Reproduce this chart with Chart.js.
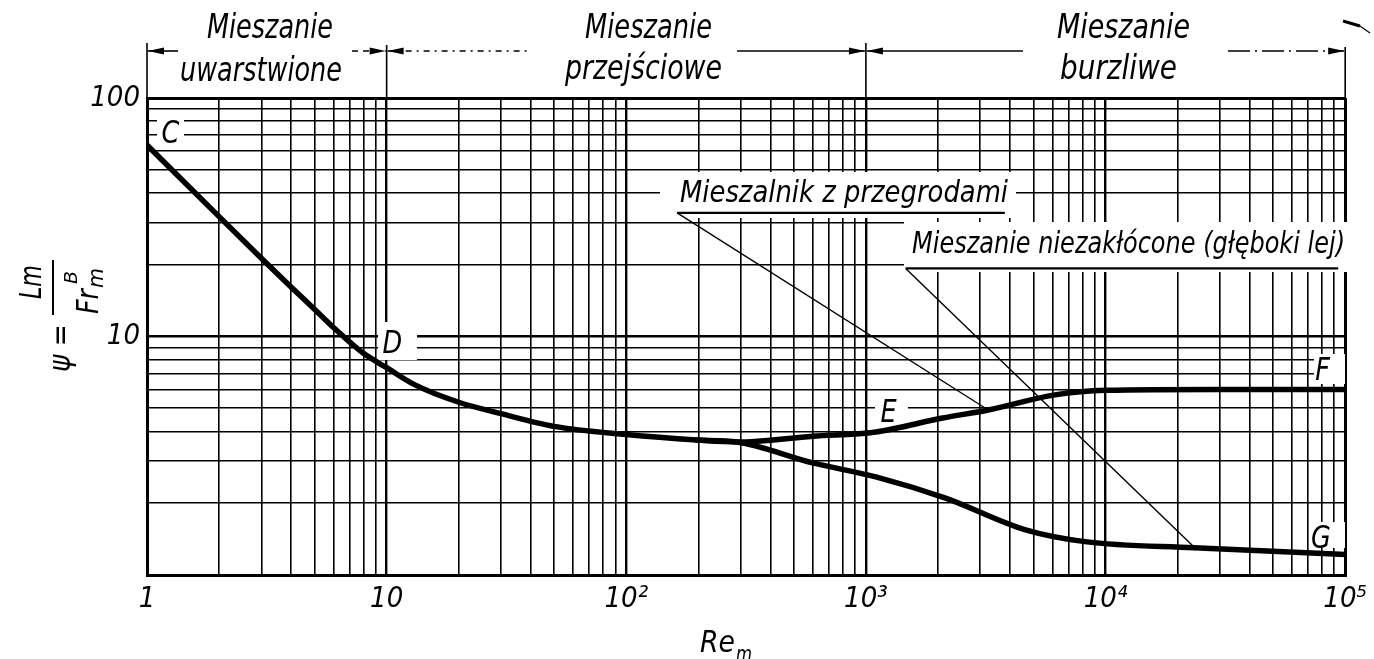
<!DOCTYPE html>
<html><head><meta charset="utf-8">
<script src="https://cdn.jsdelivr.net/npm/chart.js@4/dist/chart.umd.min.js"></script>
<style>html,body{margin:0;padding:0;background:#fff;overflow:hidden}#wrap{position:relative;width:1374px;height:659px}</style>
</head><body><div id="wrap"><canvas id="c" width="1374" height="659"></canvas></div>
<script>
// ---- data ----
const reShared = [1, 2, 3, 4, 5, 6, 7, 8, 10, 13, 20, 30, 50, 100, 197, 290];
const psiShared = [63.5, 31.8, 21.3, 16.1, 13.0, 10.9, 9.5, 8.5, 7.4, 6.3, 5.3, 4.75, 4.2, 3.88, 3.68, 3.61];
const reBaffled = [600, 1100, 2090, 3240, 6150, 10000, 30000, 100000];
const psiBaffled = [3.82, 3.98, 4.55, 4.92, 5.69, 5.95, 6.0, 6.0];
const reUnbaffled = [197, 290, 600, 1100, 2150, 4600, 8200, 23400, 100000];
const psiUnbaffled = [3.68, 3.61, 2.95, 2.58, 2.10, 1.55, 1.38, 1.30, 1.22];
const xTickLabels = ['1', '10', '10²', '10³', '10⁴', '10⁵'];
const yTickLabels = ['', '10', '100'];
const regimeBounds = [1, 10, 1000, 100000];
const regimeNames = [['Mieszanie', 'uwarstwione'], ['Mieszanie', 'przejściowe'], ['Mieszanie', 'burzliwe']];
const mixerLabels = ['Mieszalnik z przegrodami', 'Mieszanie niezakłócone (głęboki lej)'];
const curveLetters = ['C', 'D', 'E', 'F', 'G'];

const FONT = '"DejaVu Sans", sans-serif';
function fitText(ctx, text, left, right, baseline, size) {
  ctx.save();
  ctx.font = 'italic ' + size + 'px ' + FONT;
  const w = ctx.measureText(text).width;
  ctx.translate(left, baseline);
  ctx.scale((right - left) / w, 1);
  ctx.textAlign = 'left'; ctx.textBaseline = 'alphabetic';
  ctx.fillStyle = '#000';
  ctx.fillText(text, 0, 0);
  ctx.restore();
}
function line(ctx, x1, y1, x2, y2, w, dash) {
  ctx.save(); ctx.lineWidth = w; ctx.strokeStyle = '#000';
  ctx.setLineDash(dash || []);
  ctx.beginPath(); ctx.moveTo(x1, y1); ctx.lineTo(x2, y2); ctx.stroke(); ctx.restore();
}
function arrowHead(ctx, tip, y, dir) {
  ctx.beginPath(); ctx.moveTo(tip, y); ctx.lineTo(tip - dir * 16, y - 3.5); ctx.lineTo(tip - dir * 16, y + 3.5);
  ctx.closePath(); ctx.fillStyle = '#000'; ctx.fill();
}
function gridTicks(loExp, hiExp) {
  const t = [];
  for (let e = loExp; e < hiExp; e++) for (let m = 1; m <= 9; m++) t.push(m * Math.pow(10, e));
  t.push(Math.pow(10, hiExp));
  return t;
}
function expOf(v) { const e = Math.log10(v); return Math.abs(e - Math.round(e)) < 1e-9 ? Math.round(e) : null; }

const letterPos = { C: [1.15, 65], D: [9.6, 8.5], E: [1150, 4.38], F: [75000, 6.6], G: [72000, 1.30] };

const decor = {
  id: 'decor',
  beforeDraw(chart) { const c = chart.ctx; c.save(); c.fillStyle = '#fff'; c.fillRect(0, 0, chart.width, chart.height); c.restore(); },
  beforeDatasetsDraw(chart) {
    const c = chart.ctx; c.save(); c.fillStyle = '#fff';
    // white areas behind labels inside the grid
    c.fillRect(660, 172, 356, 46);
    c.fillRect(904, 222, 446, 50);
    c.fillRect(157, 113, 27, 35);
    c.fillRect(378, 322, 39, 38);
    c.fillRect(875, 396, 33, 30);
    c.fillRect(1314, 354, 31, 30);
    c.fillRect(1312, 522, 33, 26);
    c.restore();
  },
  afterDraw(chart) {
    const c = chart.ctx, xs = chart.scales.x, ys = chart.scales.y, top = chart.chartArea.top;
    // regime bracket line
    const b = regimeBounds.map(v => xs.getPixelForValue(v));
    const ay = 51;
    [43, 45, 43, 47].forEach((y0, i) => line(c, b[i], y0, b[i], top, 1.6));
    line(c, b[0] + 1, ay, 178, ay, 1.6);
    line(c, 352, ay, b[1] - 1, ay, 1.6, [6, 5]);
    line(c, b[1] + 1, ay, 527, ay, 1.6, [6, 5, 2, 5]);
    line(c, 737, ay, b[2] - 1, ay, 1.6);
    line(c, b[2] + 1, ay, 1023, ay, 1.6);
    line(c, 1228, ay, b[3] - 1, ay, 1.6, [22, 5, 2, 5]);
    arrowHead(c, b[0] + 1, ay, -1);
    arrowHead(c, b[1] - 1, ay, 1); arrowHead(c, b[1] + 1, ay, -1);
    arrowHead(c, b[2] - 1, ay, 1); arrowHead(c, b[2] + 1, ay, -1);
    arrowHead(c, b[3] - 1, ay, 1);
    // regime names
    fitText(c, regimeNames[0][0], 207, 333, 38, 34);
    fitText(c, regimeNames[0][1], 180, 342, 81, 34);
    fitText(c, regimeNames[1][0], 585, 712, 38, 34);
    fitText(c, regimeNames[1][1], 565, 722, 79, 34);
    fitText(c, regimeNames[2][0], 1057, 1190, 38, 34);
    fitText(c, regimeNames[2][1], 1060, 1177, 79, 34);
    // small mark top right
    line(c, 1343, 21, 1360, 26, 3); line(c, 1360, 26, 1370, 33, 1.2);
    // mixer labels with underline and leader line
    fitText(c, mixerLabels[0], 680, 1008, 202, 30);
    line(c, xs.getPixelForValue(163), ys.getPixelForValue(33), xs.getPixelForValue(3800), ys.getPixelForValue(33), 2.2);
    line(c, xs.getPixelForValue(163), ys.getPixelForValue(33), xs.getPixelForValue(3240), ys.getPixelForValue(4.92), 1.4);
    fitText(c, mixerLabels[1], 912, 1345, 253, 30);
    line(c, xs.getPixelForValue(1466), ys.getPixelForValue(19.3), xs.getPixelForValue(93500), ys.getPixelForValue(19.3), 2.2);
    line(c, xs.getPixelForValue(1466), ys.getPixelForValue(19.3), xs.getPixelForValue(23400), ys.getPixelForValue(1.31), 1.4);
    // curve letters
    curveLetters.forEach(L => {
      const p = letterPos[L];
      const x = xs.getPixelForValue(p[0]), y = ys.getPixelForValue(p[1]);
      c.save(); c.font = 'italic 32px ' + FONT;
      c.translate(x, y); c.scale(0.8, 1); c.fillStyle = '#000'; c.textAlign = 'left'; c.textBaseline = 'alphabetic';
      c.fillText(L, 0, 0); c.restore();
    });
    // y axis title, rotated
    c.save(); c.rotate(-Math.PI / 2);
    fitText(c, 'ψ =', -372, -324, 70, 30);
    line(c, -315, 53, -260, 53, 2);
    fitText(c, 'Lm', -299, -265, 41, 30);
    fitText(c, 'Fr', -314, -289, 98, 30);
    fitText(c, 'm', -288, -268, 103, 22);
    fitText(c, 'B', -284, -271, 77, 17);
    c.restore();
    // x axis title
    fitText(c, 'Re', 700, 735, 652, 30);
    fitText(c, 'm', 736, 752, 661, 22);
  }
};

const tickFont = { family: '"Liberation Sans Narrow", "DejaVu Sans Condensed", "Roboto Condensed", Roboto, sans-serif', style: 'italic', size: 29 };
function gridWidth(ctx, lo, hi) {
  const v = ctx.tick && ctx.tick.value;
  if (v === undefined) return 1.6;
  if (Math.abs(v - lo) < 1e-9 || Math.abs(v - hi) / hi < 1e-9) return 3;
  return expOf(v) !== null ? 2.4 : 1.6;
}

new Chart(document.getElementById('c'), {
  type: 'line',
  data: {
    datasets: [
      { label: 'C–D–E–F', data: reShared.concat(reBaffled).map((x, i) => ({ x, y: psiShared.concat(psiBaffled)[i] })),
        borderColor: '#000', borderWidth: 5.5, pointRadius: 0, cubicInterpolationMode: 'monotone', borderCapStyle: 'round', fill: false },
      { label: 'G', data: reUnbaffled.map((x, i) => ({ x, y: psiUnbaffled[i] })),
        borderColor: '#000', borderWidth: 5.5, pointRadius: 0, cubicInterpolationMode: 'monotone', borderCapStyle: 'round', fill: false }
    ]
  },
  options: {
    responsive: false, animation: false, devicePixelRatio: 1,
    layout: { padding: { top: 98, right: 22, left: 0, bottom: 0 } },
    plugins: { legend: { display: false }, tooltip: { enabled: false } },
    scales: {
      x: {
        type: 'logarithmic', min: 1, max: 100000,
        afterBuildTicks: s => { s.ticks = gridTicks(0, 5).map(v => ({ value: v })); },
        afterFit: s => { s.height = 84; },
        grid: { color: '#000', lineWidth: ctx => gridWidth(ctx, 1, 100000), drawTicks: false },
        border: { display: true, color: '#000', width: 3 },
        ticks: { autoSkip: false, maxRotation: 0, padding: 7, color: '#000', font: tickFont,
          callback: v => { const e = expOf(v); return e === null ? '' : xTickLabels[e]; } }
      },
      y: {
        type: 'logarithmic', min: 1, max: 100,
        afterBuildTicks: s => { s.ticks = gridTicks(0, 2).map(v => ({ value: v })); },
        afterFit: s => { s.width = 147; },
        grid: { color: '#000', lineWidth: ctx => gridWidth(ctx, 1, 100), drawTicks: false },
        border: { display: true, color: '#000', width: 3 },
        ticks: { autoSkip: false, padding: 7, color: '#000', font: tickFont,
          callback: v => { const e = expOf(v); return e === null ? '' : yTickLabels[e]; } }
      }
    }
  },
  plugins: [decor]
});
</script></body></html>
